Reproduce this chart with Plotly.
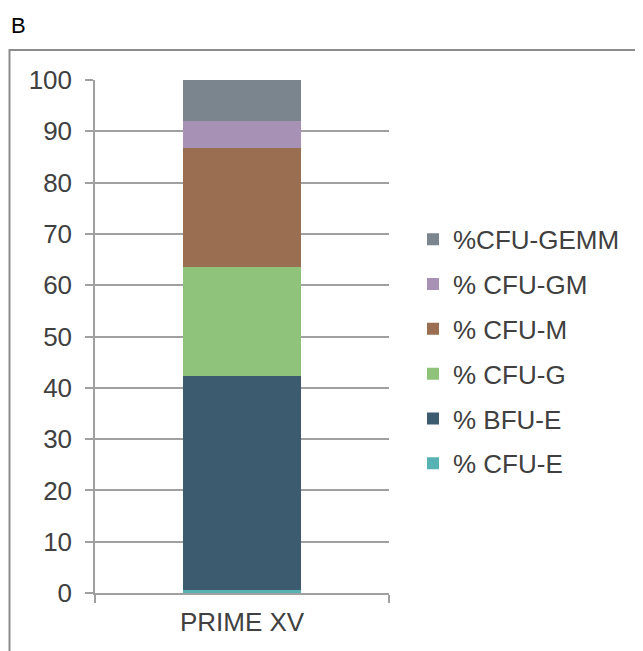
import plotly.graph_objects as go

categories = ["PRIME XV"]
series_names = ["% CFU-E", "% BFU-E", "% CFU-G", "% CFU-M", "% CFU-GM", "%CFU-GEMM"]
series_values = [[0.5], [41.8], [21.2], [23.3], [5.2], [8.0]]
series_colors = ["#57B3B3", "#3C5B6F", "#8FC27A", "#9A6E50", "#A791B5", "#7A858E"]
y_ticks = [0, 10, 20, 30, 40, 50, 60, 70, 80, 90, 100]

FONT = "Liberation Sans, Arial, sans-serif"
TXT = "#404040"
GRID = "#A0A0A0"

fig = go.Figure()
n = len(series_names)
for i, (name, vals, col) in enumerate(zip(series_names, series_values, series_colors)):
    fig.add_trace(go.Bar(
        x=categories, y=vals, name=name, legendgroup=name,
        legendrank=n - i,
        marker=dict(color=col, line=dict(width=0)),
    ))

# page has an 8px body margin; positions below are in window pixels
OFF = 8
W, H = 643, 651
L, T = 95 - OFF, 80 - OFF
R = W - (389 - OFF)
B = H - (593.5 - OFF)
pw = W - L - R
ph = H - T - B

def px_x(x):
    return (x - OFF - L) / pw

def px_y(y):
    return 1 - (y - OFF - T) / ph

fig.update_layout(
    width=W, height=H, autosize=False,
    margin=dict(l=L, r=R, t=T, b=B, pad=0),
    paper_bgcolor="white", plot_bgcolor="white",
    barmode="stack", bargap=0.6,
    font=dict(family=FONT, size=26, color=TXT),
    showlegend=True,
    legend=dict(
        x=px_x(413), y=px_y(216), xanchor="left", yanchor="top",
        traceorder="grouped", tracegroupgap=8,
        font=dict(family=FONT, size=26, color=TXT),
        bgcolor="rgba(0,0,0,0)", itemwidth=30,
    ),
    xaxis=dict(
        type="category", tickson="boundaries", ticks="outside", ticklen=8,
        tickcolor=GRID, tickwidth=1.5,
        showline=True, linecolor=GRID, linewidth=1.5,
        showgrid=False, tickfont=dict(family=FONT, size=26, color=TXT),
        ticklabelstandoff=5,
    ),
    yaxis=dict(
        range=[0, 100], tickvals=y_ticks, ticks="outside", ticklen=8,
        tickcolor=GRID, tickwidth=1.5,
        showline=True, linecolor=GRID, linewidth=1.5,
        showgrid=True, gridcolor=GRID, gridwidth=1.5, zeroline=False,
        tickfont=dict(family=FONT, size=26, color=TXT),
        ticklabelstandoff=8,
    ),
    shapes=[dict(
        type="rect", xref="paper", yref="paper",
        x0=px_x(9.5), x1=px_x(700), y0=px_y(700), y1=px_y(50),
        line=dict(color="#8C8C8C", width=2), fillcolor="rgba(0,0,0,0)",
        layer="below",
    )],
    annotations=[dict(
        text="B", xref="paper", yref="paper", x=px_x(9), y=px_y(25),
        xanchor="left", yanchor="middle", showarrow=False,
        font=dict(family=FONT, size=22, color="#000000"),
    )],
)

fig.write_html("out.html")
